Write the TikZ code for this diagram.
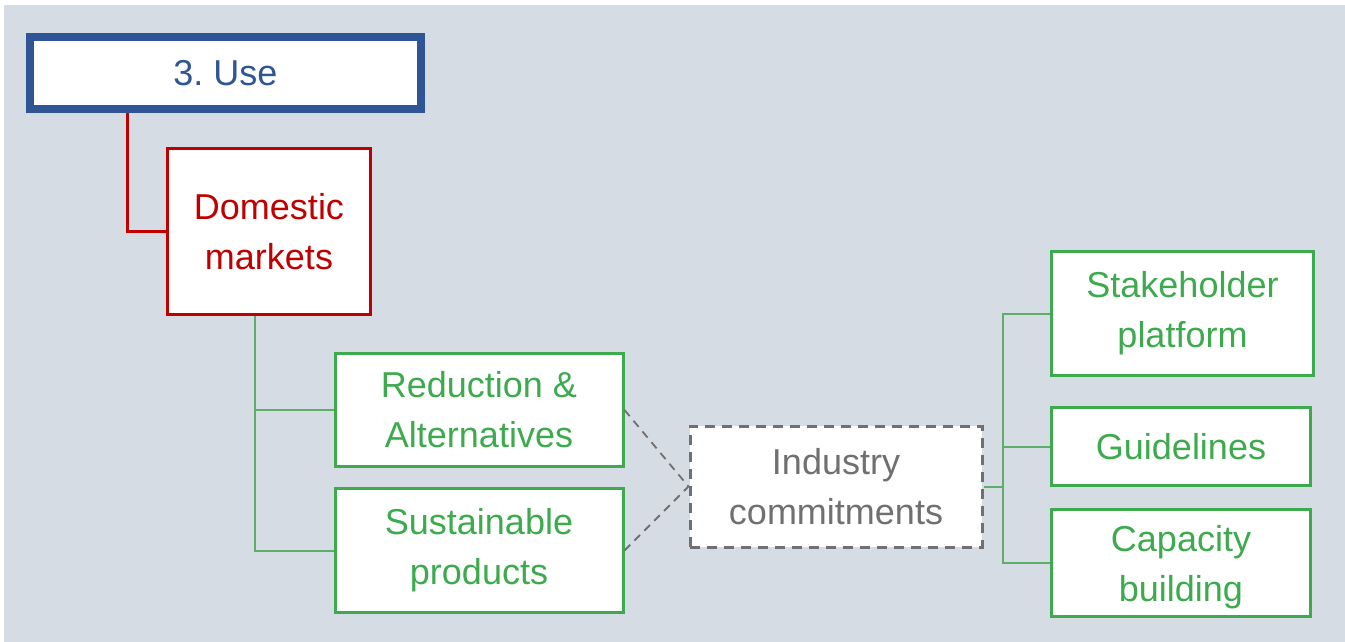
\documentclass[tikz,border=0pt]{standalone}
\usepackage{fontspec}
\setmainfont{Liberation Sans}
\frenchspacing
\definecolor{bgcol}{HTML}{D6DCE4}
\definecolor{useblue}{HTML}{2F5597}
\definecolor{domred}{HTML}{C00000}
\definecolor{leafgreen}{HTML}{3DAA4E}
\definecolor{linegreen}{HTML}{5DAE68}
\definecolor{dashgray}{HTML}{707070}
\begin{document}
\begin{tikzpicture}[x=1pt,y=-1pt,
    box/.style={draw,fill=white,align=center,inner sep=0pt,
        font=\fontsize{36}{50}\selectfont},
    usebox/.style={box,draw=useblue,text=useblue,line width=8pt},
    dombox/.style={box,draw=domred,text=domred,line width=3pt},
    leafbox/.style={box,draw=leafgreen,text=leafgreen,line width=3pt},
    indbox/.style={box,draw=dashgray,text=dashgray,line width=3pt,
        dash pattern=on 10pt off 7pt},
    redline/.style={draw=domred,line width=3pt},
    greenline/.style={draw=linegreen,line width=2pt},
    dashline/.style={draw=dashgray,line width=1.8pt,dash pattern=on 8pt off 6pt}]
        \fill[white] (0,0) rectangle (1345,642);
        \fill[bgcol] (4,5) rectangle (1345,642);
        \useasboundingbox (0,0) rectangle (1345,642);
        \node[usebox,minimum width=391pt,minimum height=72pt] (use) at (225.5,73) {3. Use};
        \node[dombox,minimum width=203pt,minimum height=166pt] (dom) at (269,231.5) {Domestic\\markets};
        \node[leafbox,minimum width=288pt,minimum height=113pt] (reduc) at (479,410) {Reduction \&\\Alternatives};
        \node[leafbox,minimum width=288pt,minimum height=124pt] (sust) at (479,550.5) {Sustainable\\products};
        \node[indbox,minimum width=292pt,minimum height=121pt] (ind) at (836,486.5) {Industry\\commitments};
        \node[leafbox,minimum width=262pt,minimum height=124pt] (stake) at (1182.5,313.5) {Stakeholder\\platform};
        \node[leafbox,minimum width=259pt,minimum height=78pt] (guide) at (1181,446.5) {Guidelines};
        \node[leafbox,minimum width=259pt,minimum height=107pt,text depth=-6pt] (cap) at (1181,563) {Capacity\\building};
        \coordinate (usefoot) at (127,113);
        \coordinate (domfoot) at (255,316);
        \coordinate (indspine) at (1003,486.5);
        \draw[redline] (usefoot) |- (dom.west);
        \foreach \n in {reduc,sust}
            \draw[greenline] (domfoot) |- (\n.west);
        \foreach \n in {reduc,sust}
            \draw[dashline] (\n.east) -- (ind.west);
        \draw[greenline] (ind.east) -- (indspine);
        \foreach \n in {stake,guide,cap}
            \draw[greenline] (indspine) |- (\n.west);
\end{tikzpicture}
\end{document}
